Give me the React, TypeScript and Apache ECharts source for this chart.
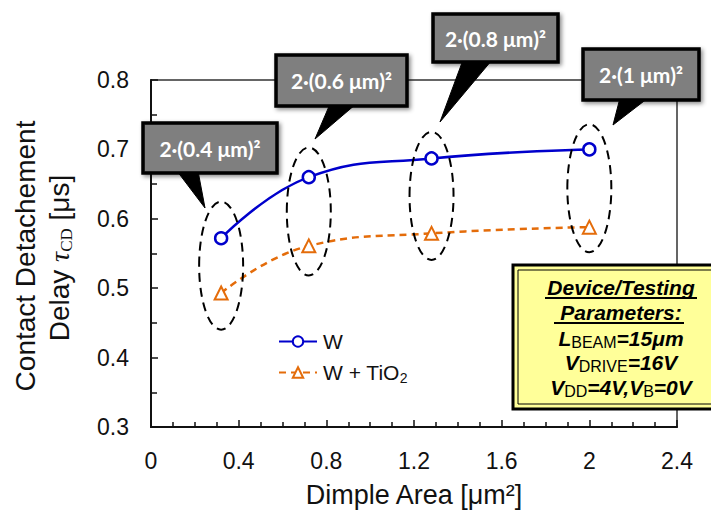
import React, { useEffect, useRef } from 'react';
import * as echarts from 'echarts';

// ---- data ----
const dimpleAreas = [0.32, 0.72, 1.28, 2];
const delayW = [0.572, 0.66, 0.687, 0.7];
const delayWTiO2 = [0.493, 0.561, 0.579, 0.588];
const seriesNames = ['W', 'W + TiO2'];
const calloutLabels = ['2·(0.4 μm)²', '2·(0.6 μm)²', '2·(0.8 μm)²', '2·(1 μm)²'];
const xAxisMin = 0;
const xAxisMax = 2.4;
const xAxisStep = 0.4;
const yAxisMin = 0.3;
const yAxisMax = 0.8;
const yAxisStep = 0.1;
const xTitle = 'Dimple Area [μm²]';
const yTitleLine1 = 'Contact Detachement';
const paramTitle = ['Device/Testing', 'Parameters:'];

// ---- annotation layout (pixels) ----
const calloutBoxes = [
  { x: 143, y: 123, w: 134, h: 50, b0: 177, b1: 198, tx: 205, ty: 208 },
  { x: 276, y: 55, w: 131, h: 51, b0: 330, b1: 356, tx: 315, ty: 139 },
  { x: 433, y: 14, w: 125, h: 48, b0: 463, b1: 492, tx: 440, ty: 122 },
  { x: 583, y: 49, w: 116, h: 51, b0: 620, b1: 648, tx: 613, ty: 125 },
];

const FONT = '"Liberation Sans", Arial, sans-serif';
const BLUE = '#0000CC';
const ORANGE = '#E46C0A';

export default function App() {
  const ref = useRef<HTMLDivElement>(null);

  useEffect(() => {
    document.body.style.margin = '0';
    const chart = echarts.init(ref.current!, null, { renderer: 'svg' });

    const option: any = {
      animation: false,
      backgroundColor: '#ffffff',
      grid: {
        left: 151,
        right: 34,
        top: 80,
        bottom: 86,
        show: true,
        borderColor: '#333',
        borderWidth: 1.5,
        backgroundColor: 'transparent',
      },
      legend: {
        orient: 'vertical',
        left: 273,
        top: 326,
        itemWidth: 38,
        itemHeight: 13,
        itemGap: 10,
        data: seriesNames,
        formatter: (name: string) =>
          name === 'W + TiO2' ? '{a|W + TiO}{s|2}' : '{a|' + name + '}',
        textStyle: {
          fontFamily: FONT,
          color: '#111',
          padding: [0, 0, 0, 1],
          rich: {
            a: { fontFamily: FONT, fontSize: 21, lineHeight: 24, color: '#111' },
            s: { fontFamily: FONT, fontSize: 14, lineHeight: 13, verticalAlign: 'bottom', color: '#111' },
          },
        },
      },
      xAxis: {
        type: 'value',
        min: xAxisMin,
        max: xAxisMax,
        interval: xAxisStep,
        name: xTitle,
        nameLocation: 'middle',
        nameGap: 54,
        nameTextStyle: { fontFamily: FONT, fontSize: 27, color: '#111' },
        axisLine: { show: true, lineStyle: { color: '#111', width: 2 } },
        axisTick: { show: true, inside: true, length: 7, lineStyle: { color: '#111', width: 1.5 } },
        minorTick: { show: true, splitNumber: 4, length: 5, lineStyle: { color: '#111', width: 1.5 } },
        axisLabel: { fontFamily: FONT, fontSize: 23, color: '#111', margin: 22 },
        splitLine: { show: false },
      },
      yAxis: {
        type: 'value',
        min: yAxisMin,
        max: yAxisMax,
        interval: yAxisStep,
        axisLine: { show: true, lineStyle: { color: '#111', width: 2 } },
        axisTick: { show: true, inside: true, length: 7, lineStyle: { color: '#111', width: 1.5 } },
        minorTick: { show: true, splitNumber: 2, length: 6, lineStyle: { color: '#111', width: 1.5 } },
        axisLabel: { fontFamily: FONT, fontSize: 23, color: '#111', margin: 22 },
        splitLine: { show: false },
      },
      series: [
        {
          name: seriesNames[0],
          type: 'line',
          data: dimpleAreas.map((x, i) => [x, delayW[i]]),
          smooth: 0.45,
          symbol: 'circle',
          symbolSize: 12,
          lineStyle: { color: BLUE, width: 2.5 },
          itemStyle: { color: '#ffffff', borderColor: BLUE, borderWidth: 2.5 },
          z: 3,
        },
        {
          name: seriesNames[1],
          type: 'line',
          data: dimpleAreas.map((x, i) => [x, delayWTiO2[i]]),
          smooth: 0.45,
          symbol: 'triangle',
          symbolSize: 13,
          lineStyle: { color: ORANGE, width: 2.5, type: [7, 5] },
          itemStyle: { color: '#ffffff', borderColor: ORANGE, borderWidth: 2 },
          z: 3,
        },
      ],
    };
    chart.setOption(option);

    const toPx = (x: number, y: number) => chart.convertToPixel({ gridIndex: 0 }, [x, y]) as number[];

    const ellipses = dimpleAreas.map((x, i) => {
      const a = toPx(x, delayW[i]);
      const b = toPx(x, delayWTiO2[i]);
      return {
        type: 'ellipse',
        z: 50,
        shape: { cx: a[0], cy: (a[1] + b[1]) / 2, rx: 22, ry: 64 },
        style: { fill: 'none', stroke: '#000', lineWidth: 2, lineDash: [9, 6] },
      };
    });

    const callouts: any[] = [];
    calloutBoxes.forEach((c, i) => {
      const bottom = c.y + c.h;
      callouts.push({
        type: 'polygon',
        z: 60,
        shape: { points: [[c.b0, bottom - 2], [c.tx, c.ty], [c.b1, bottom - 2]] },
        style: { fill: '#000', stroke: '#000', lineWidth: 1 },
      });
      callouts.push({
        type: 'rect',
        z: 61,
        shape: { x: c.x, y: c.y, width: c.w, height: c.h },
        style: {
          fill: '#7f7f7f',
          stroke: '#000',
          lineWidth: 3.5,
          shadowBlur: 4,
          shadowOffsetX: 2,
          shadowOffsetY: 2,
          shadowColor: 'rgba(0,0,0,0.45)',
        },
      });
      callouts.push({
        type: 'text',
        z: 62,
        x: c.x + c.w / 2,
        y: c.y + c.h / 2,
        style: {
          text: calloutLabels[i],
          fill: '#ffffff',
          font: 'bold 21px Lato, "Open Sans", sans-serif',
          textAlign: 'center',
          textVerticalAlign: 'middle',
        },
      });
    });

    const boxX = 513;
    const boxY = 265;
    const boxW = 220;
    const boxH = 144;
    const cx = 621;
    const bi = 'italic bold 21px "Liberation Sans", Arial, sans-serif';
    const richStyles = {
      v: { font: bi, fill: '#000', lineHeight: 24 },
      s: { font: '16px "Liberation Sans", Arial, sans-serif', fill: '#000', lineHeight: 14, verticalAlign: 'bottom' },
    };
    const paramBox: any[] = [
      {
        type: 'rect', z: 70,
        shape: { x: boxX, y: boxY, width: boxW, height: boxH },
        style: { fill: '#FFFF99', stroke: '#000', lineWidth: 3 },
      },
      {
        type: 'rect', z: 71,
        shape: { x: boxX + 5, y: boxY + 5, width: boxW - 10, height: boxH - 10 },
        style: { fill: 'none', stroke: '#000', lineWidth: 1 },
      },
      {
        type: 'text', z: 72, x: cx, y: 287,
        style: { text: paramTitle[0], font: bi, fill: '#000', textAlign: 'center', textVerticalAlign: 'middle' },
      },
      { type: 'line', z: 72, shape: { x1: 545, y1: 298, x2: 697, y2: 298 }, style: { stroke: '#000', lineWidth: 2 } },
      {
        type: 'text', z: 72, x: cx, y: 312,
        style: { text: paramTitle[1], font: bi, fill: '#000', textAlign: 'center', textVerticalAlign: 'middle' },
      },
      { type: 'line', z: 72, shape: { x1: 554, y1: 323, x2: 684, y2: 323 }, style: { stroke: '#000', lineWidth: 2 } },
      {
        type: 'text', z: 72, x: cx, y: 338,
        style: { text: '{v|L}{s|BEAM}{v|=15μm}', rich: richStyles, textAlign: 'center', textVerticalAlign: 'middle' },
      },
      {
        type: 'text', z: 72, x: cx, y: 362,
        style: { text: '{v|V}{s|DRIVE}{v|=16V}', rich: richStyles, textAlign: 'center', textVerticalAlign: 'middle' },
      },
      {
        type: 'text', z: 72, x: cx, y: 387,
        style: { text: '{v|V}{s|DD}{v|=4V,V}{s|B}{v|=0V}', rich: richStyles, textAlign: 'center', textVerticalAlign: 'middle' },
      },
    ];

    const yTitle: any[] = [
      {
        type: 'text', z: 10, x: 25, y: 256, rotation: Math.PI / 2,
        style: { text: yTitleLine1, font: '28px "Liberation Sans", Arial, sans-serif', fill: '#111', textAlign: 'center', textVerticalAlign: 'middle' },
      },
      {
        type: 'text', z: 10, x: 59, y: 258, rotation: Math.PI / 2,
        style: {
          text: '{a|Delay }{t|τ}{s|CD}{a| [μs]}',
          textAlign: 'center',
          textVerticalAlign: 'middle',
          rich: {
            a: { font: '28px "Liberation Sans", Arial, sans-serif', fill: '#111', lineHeight: 32 },
            t: { font: 'italic 28px "Liberation Serif", "DejaVu Serif", serif', fill: '#111', lineHeight: 32 },
            s: { font: '17px "Liberation Serif", "DejaVu Serif", serif', fill: '#111', lineHeight: 18, verticalAlign: 'bottom' },
          },
        },
      },
    ];

    chart.setOption({ graphic: [...ellipses, ...callouts, ...paramBox, ...yTitle] });

    return () => chart.dispose();
  }, []);

  return <div ref={ref} style={{ width: 711, height: 513 }} />;
}
